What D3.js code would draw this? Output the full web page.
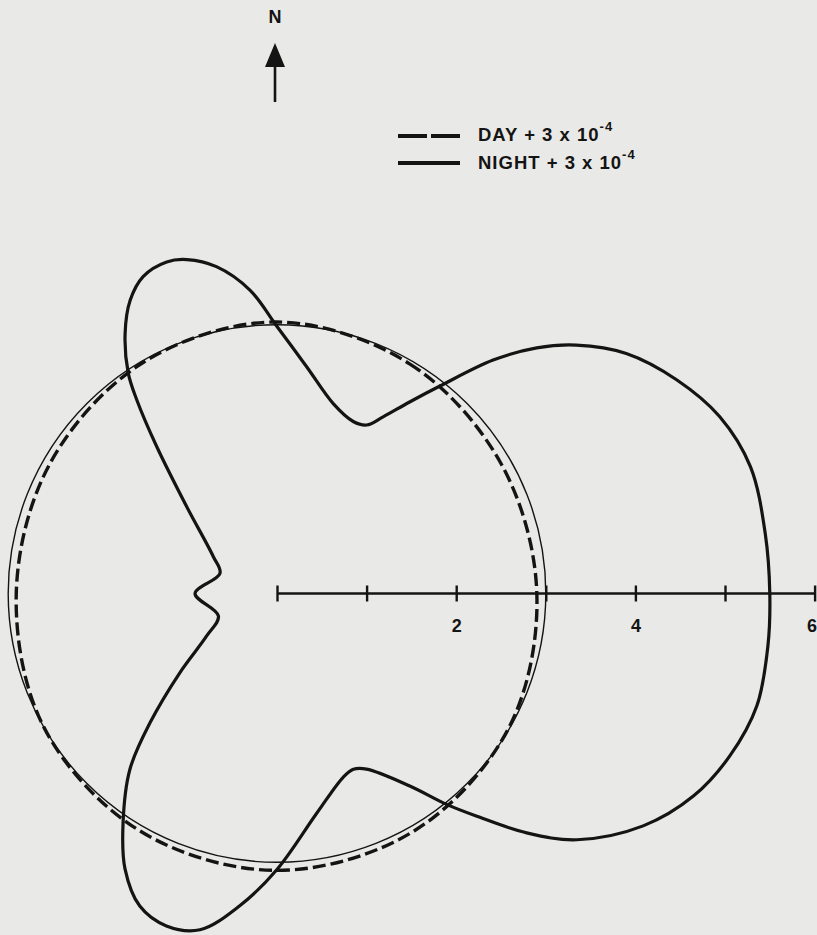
<!DOCTYPE html>
<html>
<head>
<meta charset="utf-8">
<script src="https://cdn.jsdelivr.net/npm/d3@7"></script>
<style>
html, body { margin:0; padding:0; background:#e9e9e7; }
svg { display:block; }
text { font-family:"Liberation Sans", Arial, sans-serif; font-weight:bold; fill:#141414; }
</style>
</head>
<body>
<div id="chart"></div>
<script>
var W=817, H=935, cx=277, cy=593.5

// night pattern: bearing (deg, clockwise from N) and value (+3e-4 offset)
var nightBearing=[0,7.5,16.5,23.9,28,31,34.7,38.2,42.8,46.6,50.3,55.5,61.9,68.2,75,83,90,96.1,103.2,109.7,115.9,122.4,129.4,133.8,138.1,141.2,145.4,153,156.5,160.2,169.7,180,186.8,192.9,198.4,203.7,208.9,213.9,219.9,224.5,230.8,238.8,249,270,289.5,300,313.9,320.7,324.1,326,329.7,333.4,337.1,341.6,344.9,349.5,354.9]
var nightR=[2.98,2.55,2.21,2.10,2.13,2.30,2.60,2.95,3.55,3.99,4.34,4.73,5.06,5.32,5.47,5.49,5.50,5.51,5.50,5.37,5.17,4.84,4.33,3.86,3.34,3.02,2.61,2.20,2.14,2.18,2.49,3.08,3.51,3.85,3.91,3.81,3.51,3.08,2.56,2.02,1.40,0.92,0.70,0.915,0.675,0.82,1.40,2.12,2.67,2.97,3.36,3.66,3.84,3.90,3.86,3.71,3.40]

// day pattern
var dayBearing=[0,30,60,90,120,150,180,210,240,270,300,330]
var dayR=[3.03,2.96,2.89,2.90,2.99,3.06,3.09,3.06,3.00,2.91,2.92,2.98]

var refR=3  // the offset circle
var axisTicks=[0,1,2,3,4,5,6]
var tickLabels=[2,4,6]

var svg=d3.select("#chart")
.append("svg")
.attr("width",W)
.attr("height",H)

var r=d3.scaleLinear().domain([0,6]).range([0,537.6])

var g=svg.append("g")
.attr("transform","translate("+cx+","+cy+")")

// reference circle
g.append("circle")
.attr("r",r(refR))
.attr("fill","none")
.attr("stroke","#141414")
.attr("stroke-width",1.4)

var radial=d3.lineRadial()
.angle(function(d){return d[0]*Math.PI/180})
.radius(function(d){return r(d[1])})
.curve(d3.curveCatmullRomClosed.alpha(0.5))

// day (dashed)
g.append("path")
.attr("d",radial(d3.zip(dayBearing,dayR)))
.attr("fill","none")
.attr("stroke","#141414")
.attr("stroke-width",3.4)
.attr("stroke-dasharray","13,5")

// night (solid)
g.append("path")
.attr("d",radial(d3.zip(nightBearing,nightR)))
.attr("fill","none")
.attr("stroke","#141414")
.attr("stroke-width",3.2)
.attr("stroke-linejoin","round")

// radial axis to the east
var ax=g.append("g")
.call(d3.axisBottom(r).tickValues(axisTicks).tickSize(8)
  .tickFormat(function(d){return tickLabels.indexOf(d)>=0 ? d : ""}))

ax.select(".domain")
.attr("d","M0,0H"+r(6))
.attr("stroke","#141414")
.attr("stroke-width",2.6)

ax.selectAll(".tick line")
.attr("y1",-8)
.attr("y2",8)
.attr("stroke","#141414")
.attr("stroke-width",2.4)

ax.selectAll(".tick text")
.attr("y",38)
.attr("dy",0)
.style("font-size","18px")
.style("font-family","\"Liberation Sans\", Arial, sans-serif")
.style("font-weight","bold")
.attr("fill","#141414")

// last label sits at the page edge, keep it inside
ax.selectAll(".tick text")
.filter(function(d){return d===6})
.attr("text-anchor","end")
.attr("x",2)

// North arrow
svg.append("text")
.attr("x",275)
.attr("y",23)
.attr("text-anchor","middle")
.style("font-size","18px")
.text("N")

svg.append("path")
.attr("d","M275,43 L265,67 L285,67 Z")
.attr("fill","#141414")

svg.append("line")
.attr("x1",275).attr("x2",275)
.attr("y1",62).attr("y2",102)
.attr("stroke","#141414")
.attr("stroke-width",2.6)

// legend
var legend=svg.append("g")

legend.append("line")
.attr("x1",398).attr("x2",460)
.attr("y1",136).attr("y2",136)
.attr("stroke","#141414")
.attr("stroke-width",4)
.attr("stroke-dasharray","29,4")

legend.append("line")
.attr("x1",398).attr("x2",460)
.attr("y1",163).attr("y2",163)
.attr("stroke","#141414")
.attr("stroke-width",4)

var legendNames=["DAY + 3 x 10","NIGHT + 3 x 10"]

legendNames.forEach(function(name,i){
  var t=legend.append("text")
  .attr("x",478)
  .attr("y",141+i*27.5)
  .style("font-size","18.5px")
  .style("letter-spacing","1px")
  .text(name)
  t.append("tspan")
  .attr("dy",-10)
  .style("font-size","13px")
  .text("-4")
})
</script>
</body>
</html>
